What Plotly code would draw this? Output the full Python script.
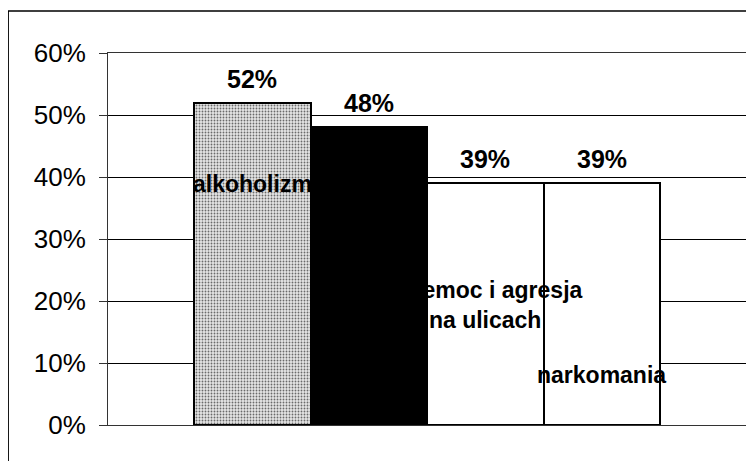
import plotly.graph_objects as go

categories = ["alkoholizm", "bezrobocie", "przemoc i agresja na ulicach", "narkomania"]
values = [0.52, 0.48, 0.39, 0.39]
value_labels = ["52%", "48%", "39%", "39%"]
inner_labels = ["alkoholizm", "", "przemoc i agresja<br>na ulicach", "narkomania"]
inner_label_y = [0.389, 0.0, 0.194, 0.081]
tick_vals = [0, 0.1, 0.2, 0.3, 0.4, 0.5, 0.6]
tick_text = ["0%", "10%", "20%", "30%", "40%", "50%", "60%"]

fig = go.Figure()

styles = [
    dict(color="#e4e4e4", line=dict(color="black", width=2),
         pattern=dict(shape=".", fillmode="replace", bgcolor="#e6e6e6",
                      fgcolor="#6a6a6a", size=3, solidity=0.3)),
    dict(color="black", line=dict(color="black", width=2)),
    dict(color="white", line=dict(color="black", width=2)),
    dict(color="white", line=dict(color="black", width=2)),
]

for i, cat in enumerate(categories):
    fig.add_trace(go.Bar(x=[cat], y=[values[i]], marker=styles[i], width=1.0,
                         showlegend=False, hoverinfo="skip"))

for i, cat in enumerate(categories):
    fig.add_annotation(x=cat, y=values[i], text="<b>%s</b>" % value_labels[i],
                       showarrow=False, yanchor="middle", yshift=24,
                       font=dict(family="Arial, Liberation Sans", size=25, color="black"))
    if inner_labels[i]:
        fig.add_annotation(x=cat, y=inner_label_y[i], text="<b>%s</b>" % inner_labels[i],
                           showarrow=False, yanchor="middle", align="center",
                           font=dict(family="Arial, Liberation Sans", size=23, color="black"))

# outer chart frame
fig.add_shape(type="rect", xref="paper", yref="paper", x0=-0.156, x1=1.2,
              y0=-0.3, y1=1.113, line=dict(color="black", width=1.5), layer="below")

fig.update_layout(
    width=754, height=461,
    margin=dict(l=100, r=14, t=45, b=44),
    paper_bgcolor="white", plot_bgcolor="white",
    bargap=0, bargroupgap=0, barmode="group",
    font=dict(family="Arial, Liberation Sans", color="black"),
)
fig.update_xaxes(type="category", categoryorder="array", categoryarray=categories,
                 range=[-1.238, 4.255], showticklabels=False, ticks="",
                 showline=True, linecolor="#333", linewidth=1, mirror=True,
                 showgrid=False, zeroline=False)
fig.update_yaxes(range=[0, 0.6], tickvals=tick_vals, ticktext=tick_text,
                 ticks="outside", ticklen=8, tickcolor="#333", tickwidth=1,
                 ticklabelstandoff=8,
                 tickfont=dict(family="Arial, Liberation Sans", size=26, color="black"),
                 showline=True, linecolor="#333", linewidth=1, mirror=True,
                 showgrid=True, gridcolor="black", gridwidth=1, zeroline=False)

fig.write_html("out.html")
